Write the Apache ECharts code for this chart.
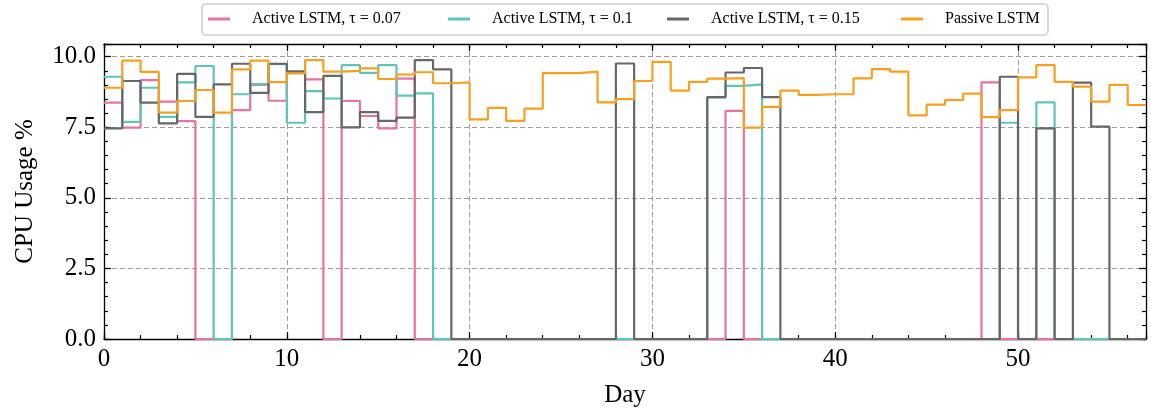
<!DOCTYPE html>
<html>
<head>
<meta charset="utf-8">
<script src="https://cdn.jsdelivr.net/npm/echarts@6/dist/echarts.min.js"></script>
<style>html,body{margin:0;padding:0;background:#fff;}#chart{width:1151px;height:414px;}</style>
</head>
<body>
<div id="chart"></div>
<script>
// Day index 0..56 ; each value holds for [day, day+1]
const days = Array.from({length: 57}, (_, i) => i);
const seriesNames = ['Active LSTM, \u03c4 = 0.07', 'Active LSTM, \u03c4 = 0.1', 'Active LSTM, \u03c4 = 0.15', 'Passive LSTM'];
const active007 = [8.37,7.49,9.17,8.41,7.72,0,0,8.11,9.0,8.44,9.45,9.20,0,8.43,7.90,7.46,9.22,0,0,0,
  0,0,0,0,0,0,0,0,0,0,0,0,0,0,8.08,0,0,0,0,0,0,0,0,0,0,0,0,0,9.09,0,0,0,0,0,0,0,0];
const active01 = [9.29,7.69,8.90,7.87,9.09,9.67,0,8.67,9.03,9.74,7.66,8.78,8.52,9.70,9.43,9.70,8.62,8.70,0,0,
  0,0,0,0,0,0,0,0,0,0,0,0,0,8.56,8.97,9.02,0,0,0,0,0,0,0,0,0,0,0,0,0,7.66,0,8.38,0,0,0,0,0];
const active015 = [7.46,9.14,8.37,7.64,9.39,7.87,9.02,9.75,8.72,9.75,9.48,8.04,9.32,7.50,8.04,7.73,7.84,9.88,9.55,0,
  0,0,0,0,0,0,0,0,9.76,0,0,0,0,8.57,9.44,9.60,8.57,0,0,0,0,0,0,0,0,0,0,0,0,9.29,0,7.46,0,9.08,7.52,0,0];
const passive = [8.90,9.86,9.46,8.02,8.43,8.82,8.02,9.55,9.86,9.10,9.41,9.88,9.47,9.50,9.59,9.21,9.37,9.45,9.06,9.09,
  7.78,8.19,7.73,8.16,9.42,9.42,9.47,8.38,8.50,9.14,9.82,8.80,9.11,9.22,9.24,7.49,8.22,8.80,8.65,8.67,
  8.67,9.23,9.56,9.47,7.92,8.30,8.46,8.69,7.86,8.11,9.27,9.70,9.11,8.94,8.41,9.00,8.29];
const xTickLabels = [0, 10, 20, 30, 40, 50];
const yTickLabels = ['0.0', '2.5', '5.0', '7.5', '10.0'];

const colors = ['#e8739e', '#5dc5bc', '#676767', '#f7a01f'];
const FONT = 'Liberation Serif';

function toSteps(vals) {
  const d = days.map((x, i) => [x, vals[i]]);
  d.push([days.length, vals[vals.length - 1]]);
  return d;
}

const chart = echarts.init(document.getElementById('chart'), null, {renderer: 'canvas'});
const gridLine = {show: true, showMinLine: false, showMaxLine: false, lineStyle: {color: '#9c9c9c', width: 1, type: [5, 3]}};
const axLine = {show: true, onZero: false, lineStyle: {color: '#000', width: 1.3}};
function xAx(pos, major) {
  return {
    type: 'value', min: 0, max: 57, interval: major ? 10 : 2, position: pos,
    axisLine: major ? axLine : {show: false, onZero: false},
    axisTick: {show: true, inside: true, length: major ? 7 : 4, lineStyle: {color: '#000', width: 1.2}},
    axisLabel: (major && pos === 'bottom') ? {
      show: true, margin: 8, fontSize: 25, fontFamily: FONT, color: '#000',
      formatter: v => xTickLabels.indexOf(v) >= 0 ? String(v) : ''
    } : {show: false},
    splitLine: (major && pos === 'bottom') ? gridLine : {show: false},
    name: (major && pos === 'bottom') ? 'Day' : '',
    nameLocation: 'middle', nameGap: 44,
    nameTextStyle: {fontSize: 25, fontFamily: FONT, color: '#000'},
    z: 3
  };
}
function yAx(pos, major) {
  return {
    type: 'value', min: 0, max: 10.45, interval: major ? 2.5 : 0.5, position: pos,
    axisLine: major ? axLine : {show: false, onZero: false},
    axisTick: {show: true, inside: true, length: major ? 7 : 4, lineStyle: {color: '#000', width: 1.2}},
    axisLabel: (major && pos === 'left') ? {
      show: true, margin: 8, fontSize: 25, fontFamily: FONT, color: '#000',
      formatter: v => { const s = v.toFixed(1); return (yTickLabels.indexOf(s) >= 0 && Math.abs(v * 10 - Math.round(v * 10)) < 1e-6 && Math.round(v * 10) % 25 === 0) ? s : ''; }
    } : {show: false},
    splitLine: (major && pos === 'left') ? gridLine : {show: false},
    name: (major && pos === 'left') ? 'CPU Usage %' : '',
    nameLocation: 'middle', nameGap: 66,
    nameTextStyle: {fontSize: 25, fontFamily: FONT, color: '#000'},
    z: 3
  };
}

const allVals = [active007, active01, active015, passive];
const legendIconLeft = [208, 448, 667, 901];
const option = {
  animation: false,
  backgroundColor: '#fff',
  grid: {left: 104, right: 5, top: 44, bottom: 75},
  graphic: [{
    type: 'rect', z: 1,
    shape: {x: 202, y: 4, width: 846, height: 31, r: 4},
    style: {fill: '#fff', stroke: '#cfcfcf', lineWidth: 1.6}
  }],
  legend: seriesNames.map((n, i) => ({
    data: [n], left: legendIconLeft[i], top: 11, padding: 0, z: 5,
    icon: 'rect', itemWidth: 22, itemHeight: 3,
    textStyle: {fontSize: 16, fontFamily: FONT, color: '#000', lineHeight: 16, padding: [0, 0, 0, 17]}
  })),
  xAxis: [xAx('bottom', true), xAx('bottom', false), xAx('top', true), xAx('top', false)],
  yAxis: [yAx('left', true), yAx('left', false), yAx('right', true), yAx('right', false)],
  series: allVals.map((vals, i) => ({
    name: seriesNames[i], type: 'line', step: 'end',
    xAxisIndex: 0, yAxisIndex: 0,
    data: toSteps(vals), showSymbol: false, symbol: 'none', clip: false,
    lineStyle: {color: colors[i], width: 2.2},
    itemStyle: {color: colors[i]},
    z: 4 + i
  }))
};
chart.setOption(option);
</script>
</body>
</html>
